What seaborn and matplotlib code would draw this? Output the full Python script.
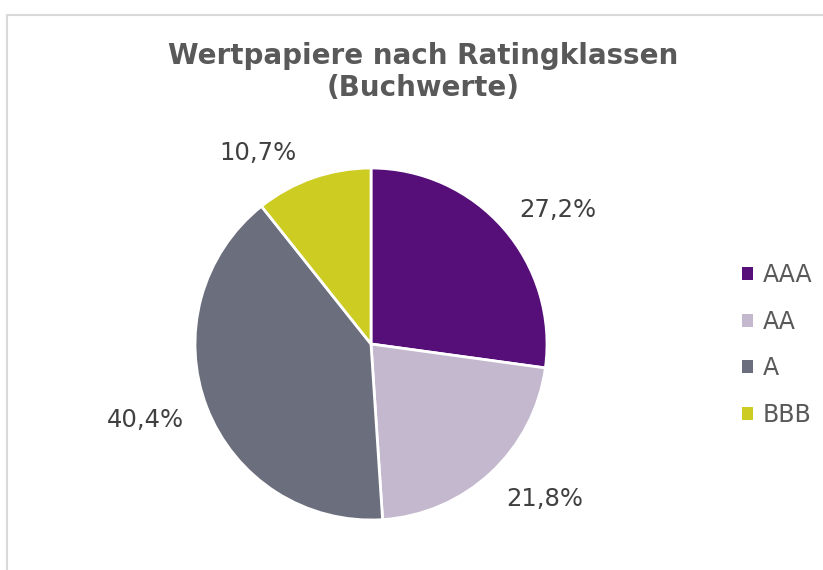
import matplotlib
matplotlib.use("Agg")
import matplotlib.pyplot as plt
import seaborn as sns
from matplotlib.lines import Line2D
from matplotlib.patches import Patch

categories = ["AAA", "AA", "A", "BBB"]
values = [27.2, 21.8, 40.4, 10.7]
colors = ["#560F78", "#C3B8CE", "#6B6E7D", "#CCCC22"]
title = "Wertpapiere nach Ratingklassen\n(Buchwerte)"
# label placement (in pie radius units), as Excel "best fit" put them
label_pos = [(1.06, 0.76), (0.99, -0.88), (-1.28, -0.43), (-0.64, 1.085)]

sns.set_theme(style="white")
plt.rcParams["font.family"] = ["DejaVu Sans"]

W, H = 823, 570
fig = plt.figure(figsize=(W / 100, H / 100), dpi=100)
fig.patch.set_facecolor("white")

# chart border (top and left visible)
fig.add_artist(Line2D([7 / W, 7 / W], [0, 1 - 15 / H], transform=fig.transFigure,
                      color="#D9D9D9", lw=1.5))
fig.add_artist(Line2D([7 / W, 1], [1 - 15 / H, 1 - 15 / H], transform=fig.transFigure,
                      color="#D9D9D9", lw=1.5))

cx, cy, r = 371, 344, 176
ax = fig.add_axes([(cx - r) / W, 1 - (cy + r) / H, 2 * r / W, 2 * r / H])
wedges, texts, autotexts = ax.pie(
    values, colors=colors, startangle=90, counterclock=False,
    autopct="%1.1f",
    pctdistance=1.31,
    wedgeprops=dict(edgecolor="white", linewidth=2),
    textprops=dict(color="#404040", fontsize=17.5),
)
for t, v, pos in zip(autotexts, values, label_pos):
    t.set_text(f"{v:.1f}".replace(".", ",") + "%")
    t.set_position(pos)
ax.set_aspect("equal")
ax.set_xlim(-1, 1)
ax.set_ylim(-1, 1)
ax.axis("off")

fig.text(423 / W, 1 - 72 / H, title, ha="center", va="center", fontsize=20,
         fontweight="bold", color="#595959", linespacing=1.2)

handles = [Patch(facecolor=c, edgecolor="none") for c in colors]
fig.legend(handles, categories, loc="center left", bbox_to_anchor=(721 / W, 1 - 345 / H),
           frameon=False, fontsize=17, handlelength=0.47, handleheight=0.47,
           handletextpad=0.38, labelspacing=0.95, labelcolor="#595959")

fig.savefig("out.png", dpi=100)
